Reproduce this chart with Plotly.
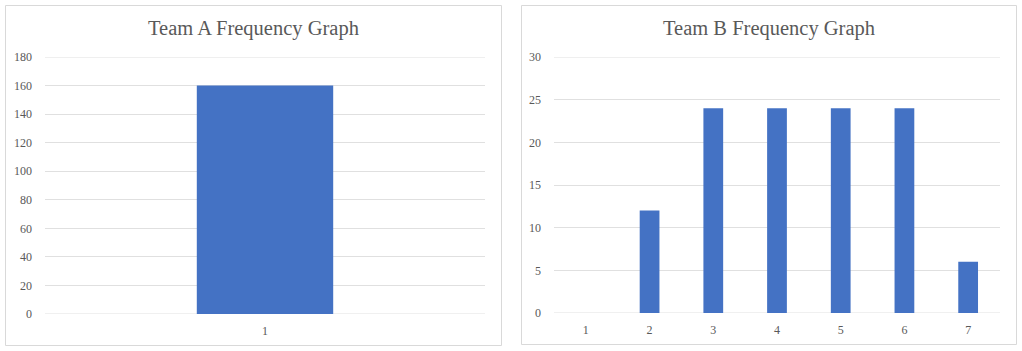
import plotly.graph_objects as go

W, H = 1022, 351

team_a_cats = ["1"]
team_a_vals = [160]
team_b_cats = ["1", "2", "3", "4", "5", "6", "7"]
team_b_vals = [0, 12, 24, 24, 24, 24, 6]

title_a = "Team A Frequency Graph"
title_b = "Team B Frequency Graph"

BAR = "#4472C4"
GRID = "#e0e0e0"
TXT = "#595959"
FONT = "Liberation Serif"

def px(x):
    return x / W

def py(y):
    return 1 - y / H

fig = go.Figure()
fig.add_trace(go.Bar(x=team_a_cats, y=team_a_vals, marker=dict(color=BAR, line=dict(width=0)),
                     xaxis="x", yaxis="y", showlegend=False, hoverinfo="x+y"))
fig.add_trace(go.Bar(x=team_b_cats, y=team_b_vals, marker=dict(color=BAR, line=dict(width=0)),
                     xaxis="x2", yaxis="y2", showlegend=False, hoverinfo="x+y"))

axis_common = dict(showline=False, zeroline=False, automargin=False,
                   tickfont=dict(family=FONT, size=12, color=TXT), fixedrange=True)

fig.update_layout(
    width=W, height=H, margin=dict(l=0, r=0, t=0, b=0, pad=0, autoexpand=False),
    paper_bgcolor="white", plot_bgcolor="white",
    bargap=0.69,
    xaxis=dict(domain=[px(45), px(485)], anchor="y", type="category", showgrid=False,
               ticks="outside", ticklen=6, tickcolor="rgba(0,0,0,0)", **axis_common),
    yaxis=dict(domain=[py(314), py(57)], anchor="x", range=[0, 180], dtick=20, showgrid=True,
               gridcolor=GRID, gridwidth=1, ticks="", ticklabelstandoff=12, **axis_common),
    xaxis2=dict(domain=[px(554), px(1000)], anchor="y2", type="category", showgrid=False,
                ticks="outside", ticklen=6, tickcolor="rgba(0,0,0,0)", **axis_common),
    yaxis2=dict(domain=[py(313), py(57)], anchor="x2", range=[0, 30], dtick=5, showgrid=True,
                gridcolor=GRID, gridwidth=1, ticks="", ticklabelstandoff=12, **axis_common),
)

# baseline and top gridlines (plotly skips grid at range ends)
for xr, yr, v in [("x domain", "y", 0), ("x domain", "y", 180), ("x2 domain", "y2", 0), ("x2 domain", "y2", 30)]:
    fig.add_shape(type="line", xref=xr, yref=yr, x0=0, x1=1, y0=v, y1=v, line=dict(color=GRID, width=1), layer="below")

# chart borders
fig.add_shape(type="rect", xref="paper", yref="paper", x0=px(5.5), x1=px(501.5), y0=py(345.5), y1=py(5.5),
              line=dict(color="#d9d9d9", width=1), layer="below")
fig.add_shape(type="rect", xref="paper", yref="paper", x0=px(521.5), x1=px(1016.5), y0=py(344.5), y1=py(5.5),
              line=dict(color="#d9d9d9", width=1), layer="below")

fig.add_annotation(text=title_a, xref="paper", yref="paper", x=px(253), y=py(28.5), xanchor="center", yanchor="middle",
                   showarrow=False, font=dict(family=FONT, size=20.5, color=TXT))
fig.add_annotation(text=title_b, xref="paper", yref="paper", x=px(768.5), y=py(28.5), xanchor="center", yanchor="middle",
                   showarrow=False, font=dict(family=FONT, size=20.5, color=TXT))

fig.write_html("out.html", config={"displayModeBar": False})
